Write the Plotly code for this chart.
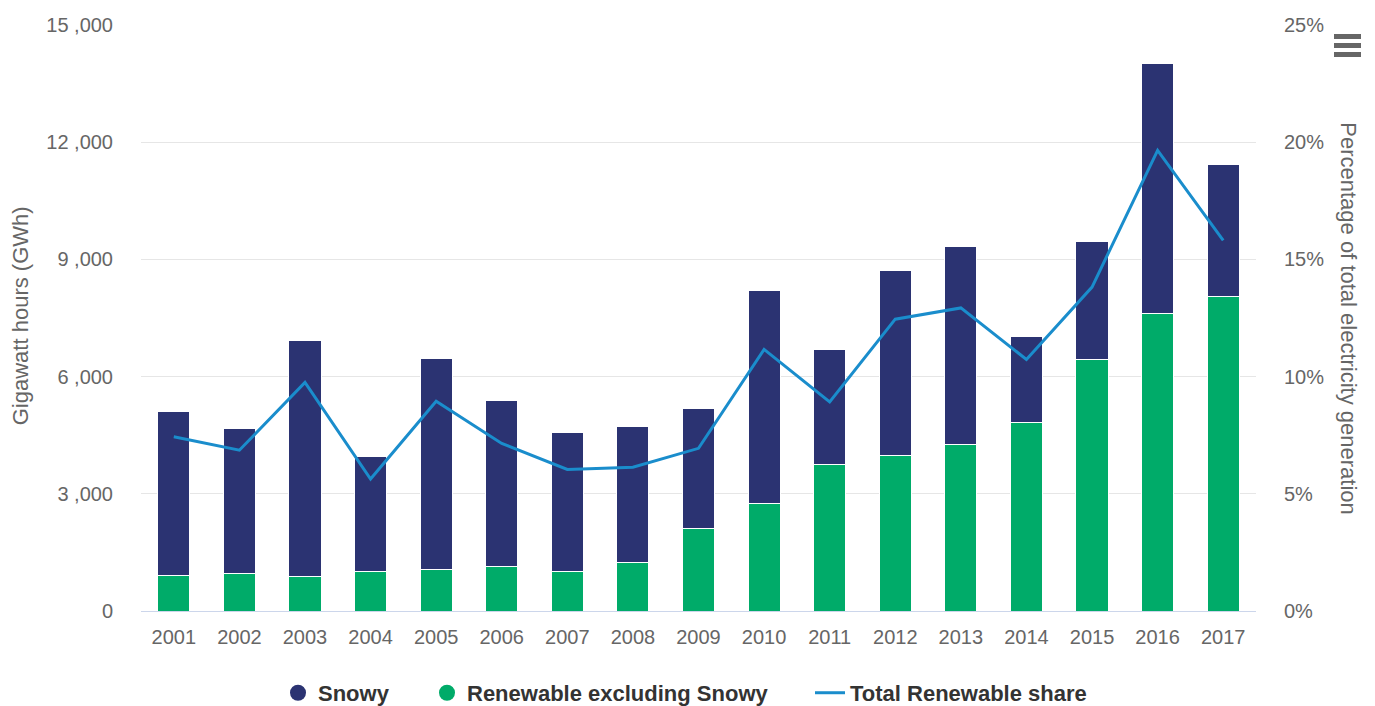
import plotly.graph_objects as go

years = [str(y) for y in range(2001, 2018)]
renew_ex_snowy = [921, 964, 877, 1023, 1066, 1151, 1023, 1253, 2105, 2754, 3742, 3990, 4271, 4834, 6445, 7621, 8038]
totals = [5097, 4673, 6931, 3964, 6463, 5379, 4570, 4724, 5192, 8192, 6693, 8714, 9327, 7033, 9463, 14023, 11440]
snowy = [t - r for t, r in zip(totals, renew_ex_snowy)]
share_pct = [7.43, 6.86, 9.75, 5.63, 8.95, 7.15, 6.04, 6.13, 6.94, 11.16, 8.92, 12.45, 12.93, 10.73, 13.82, 19.65, 15.81]

left_ticks = [0, 3000, 6000, 9000, 12000, 15000]
left_ticktext = ["0", "3 ,000", "6 ,000", "9 ,000", "12 ,000", "15 ,000"]
right_ticks = [0, 5, 10, 15, 20, 25]
right_ticktext = ["0%", "5%", "10%", "15%", "20%", "25%"]

C_SNOWY = "#2b3372"
C_GREEN = "#00ab69"
C_LINE = "#1a8dcc"
FONT = "Liberation Sans, Arial, sans-serif"

W, H = 1375, 706
L, R, T, B = 141, 1256, 24.5, 611   # plot area in page pixels


def px_x(p):
    return (p - L) / (R - L)


def px_y(p):
    return (B - p) / (B - T)


fig = go.Figure()
fig.add_trace(go.Bar(x=years, y=renew_ex_snowy, name="Renewable excluding Snowy",
                     marker=dict(color=C_GREEN, line=dict(color="white", width=1)),
                     showlegend=False, yaxis="y"))
fig.add_trace(go.Bar(x=years, y=snowy, name="Snowy",
                     marker=dict(color=C_SNOWY, line=dict(color="white", width=1)),
                     showlegend=False, yaxis="y"))
fig.add_trace(go.Scatter(x=years, y=share_pct, name="Total Renewable share", mode="lines",
                         line=dict(color=C_LINE, width=3), yaxis="y2", showlegend=False))

# legend entries (circle symbols as in the reference)
fig.add_trace(go.Scatter(x=[None], y=[None], mode="markers", name="Snowy",
                         marker=dict(color=C_SNOWY, size=22, symbol="circle"), legend="legend"))
fig.add_trace(go.Scatter(x=[None], y=[None], mode="markers", name="Renewable excluding Snowy",
                         marker=dict(color=C_GREEN, size=22, symbol="circle"), legend="legend2"))
fig.add_trace(go.Scatter(x=[None], y=[None], mode="lines", name="Total Renewable share",
                         line=dict(color=C_LINE, width=3), legend="legend3"))

shapes = []
for yy in (36, 45, 54):
    shapes.append(dict(type="line", xref="paper", yref="paper",
                       x0=px_x(1334), x1=px_x(1361), y0=px_y(yy), y1=px_y(yy),
                       line=dict(color="#666666", width=5)))

leg_font = dict(size=22, color="#333333", family=FONT, weight="bold")
LEG_Y = px_y(693)


def leg(xpx):
    return dict(orientation="h", x=px_x(xpx), xanchor="left", y=LEG_Y, yanchor="middle",
                font=leg_font, itemwidth=30, bgcolor="rgba(0,0,0,0)")


fig.update_layout(
    width=W, height=H,
    margin=dict(l=L, r=W - R, t=T, b=H - B, autoexpand=False),
    paper_bgcolor="white", plot_bgcolor="white",
    barmode="stack", bargap=0.51,
    font=dict(family=FONT, color="#666666", size=20),
    xaxis=dict(type="category", showgrid=False, showline=True, linecolor="#ccd6eb", linewidth=1,
               ticks="", tickfont=dict(size=20, color="#666666"), ticklabelstandoff=8,
               fixedrange=True),
    yaxis=dict(range=[0, 15000], tickvals=left_ticks, ticktext=left_ticktext,
               showgrid=True, gridcolor="#e6e6e6", gridwidth=1, zeroline=False,
               showline=False, ticks="", tickfont=dict(size=20, color="#666666"),
               ticklabelstandoff=27),
    yaxis2=dict(range=[0, 25], tickvals=right_ticks, ticktext=right_ticktext,
                overlaying="y", side="right",
                showgrid=False, zeroline=False, showline=False, ticks="",
                tickfont=dict(size=20, color="#666666"), ticklabelstandoff=27),
    legend=leg(278),
    legend2=leg(427),
    legend3=leg(810),
    annotations=[
        dict(text="Gigawatt hours (GWh)", xref="paper", yref="paper", x=px_x(20), y=px_y(316),
             xanchor="center", yanchor="middle", textangle=-90, showarrow=False,
             font=dict(size=22, color="#666666", family=FONT)),
        dict(text="Percentage of total electricity generation", xref="paper", yref="paper",
             x=px_x(1349), y=px_y(318), xanchor="center", yanchor="middle", textangle=90,
             showarrow=False, font=dict(size=22, color="#666666", family=FONT)),
    ],
    shapes=shapes,
    hovermode=False,
)

# remove the default 8px page margin so the figure fills the 1375x706 window exactly
fig.write_html("out.html", config={"displayModeBar": False},
               post_script="document.body.style.margin='0px';document.body.style.overflow='hidden';")
